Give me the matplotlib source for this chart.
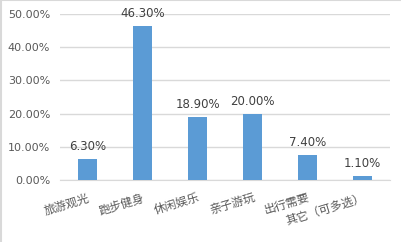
import matplotlib.pyplot as plt
from matplotlib.lines import Line2D

plt.rcParams['font.family'] = ['Noto Sans CJK SC', 'DejaVu Sans']

categories = ["旅游观光", "跑步健身", "休闲娱乐", "亲子游玩", "出行需要", "其它（可多选）"]
values = [6.30, 46.30, 18.90, 20.00, 7.40, 1.10]

fig = plt.figure(figsize=(4.02, 2.42), dpi=100)
ax = fig.add_axes([60 / 402, 1 - 180 / 242, 330 / 402, 166 / 242])

# chart frame: only the top and left edges show in the reference
fig.lines.append(Line2D([0, 1], [0.998, 0.998], transform=fig.transFigure,
                        color="#D9D9D9", linewidth=1.5))
fig.lines.append(Line2D([0.002, 0.002], [0, 1], transform=fig.transFigure,
                        color="#D9D9D9", linewidth=1.5))

x = range(len(categories))
ax.bar(x, values, width=0.33, color="#5B9BD5", zorder=3)

for xi, v in zip(x, values):
    ax.text(xi, v + 1.8, f"{v:.2f}%", ha="center", va="bottom",
            fontsize=8.5, color="#404040", family="DejaVu Sans")

ax.set_ylim(0, 50)
ax.set_xlim(-0.5, len(categories) - 0.5)
ax.set_yticks(range(0, 51, 10))
ax.set_yticklabels([f"{t:.2f}%" for t in range(0, 51, 10)], fontsize=8,
                   color="#595959", family="DejaVu Sans")
ax.set_xticks(list(x))
ax.set_xticklabels(categories, rotation=17, ha="right", rotation_mode="anchor",
                   fontsize=8.5, color="#595959")
ax.tick_params(axis="x", length=0, pad=8)
ax.tick_params(axis="y", length=0, pad=7)
ax.grid(axis="y", color="#D9D9D9", linewidth=1, zorder=0)

for side in ["top", "right", "left"]:
    ax.spines[side].set_visible(False)
ax.spines["bottom"].set_color("#D9D9D9")

fig.savefig("out.png", dpi=100)
